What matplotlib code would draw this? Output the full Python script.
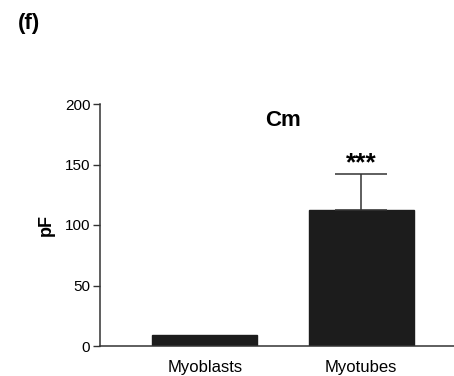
import matplotlib.pyplot as plt

plt.rcParams['font.family'] = ['Liberation Sans', 'DejaVu Sans']

groups = ['Myoblasts', 'Myotubes']
cm_mean = [9, 112]
cm_err = [0, 30]
yticks = [0, 50, 100, 150, 200]

fig = plt.figure(figsize=(4.54, 3.76), dpi=100)
ax = fig.add_axes([100 / 454, 30 / 376, 354 / 454, 242 / 376])

x = range(len(groups))
ax.bar(x, cm_mean, width=0.673, color='#1c1c1c', edgecolor='#1c1c1c')
ax.errorbar([1], [cm_mean[1]], yerr=[[0], [cm_err[1]]], fmt='none',
            ecolor='#333333', elinewidth=1.1, capsize=19, capthick=1.1)

ax.set_xlim(-0.673, 1.596)
ax.set_ylim(0, 200)
ax.set_yticks(yticks)
ax.set_xticks(list(x))
ax.set_xticklabels(groups, fontsize=12)
ax.tick_params(axis='y', labelsize=11, length=5, width=1, color='#333333', pad=2)
ax.tick_params(axis='x', length=0, pad=10)
for s in ['top', 'right']:
    ax.spines[s].set_visible(False)
for s in ['left', 'bottom']:
    ax.spines[s].set_linewidth(1.1)
    ax.spines[s].set_color('#333333')

ax.set_ylabel('pF', fontsize=13, fontweight='bold', labelpad=7)
ax.text(0.5, 186, 'Cm', ha='center', va='center', fontsize=16, fontweight='bold')
# significance marker above the myotube bar
ax.text(1, 151, '***', ha='center', va='center', fontsize=19, fontweight='bold')
fig.text(29 / 454, 1 - 24 / 376, '(f)', ha='center', va='center',
         fontsize=16, fontweight='bold')

fig.savefig('out.png', dpi=100)
